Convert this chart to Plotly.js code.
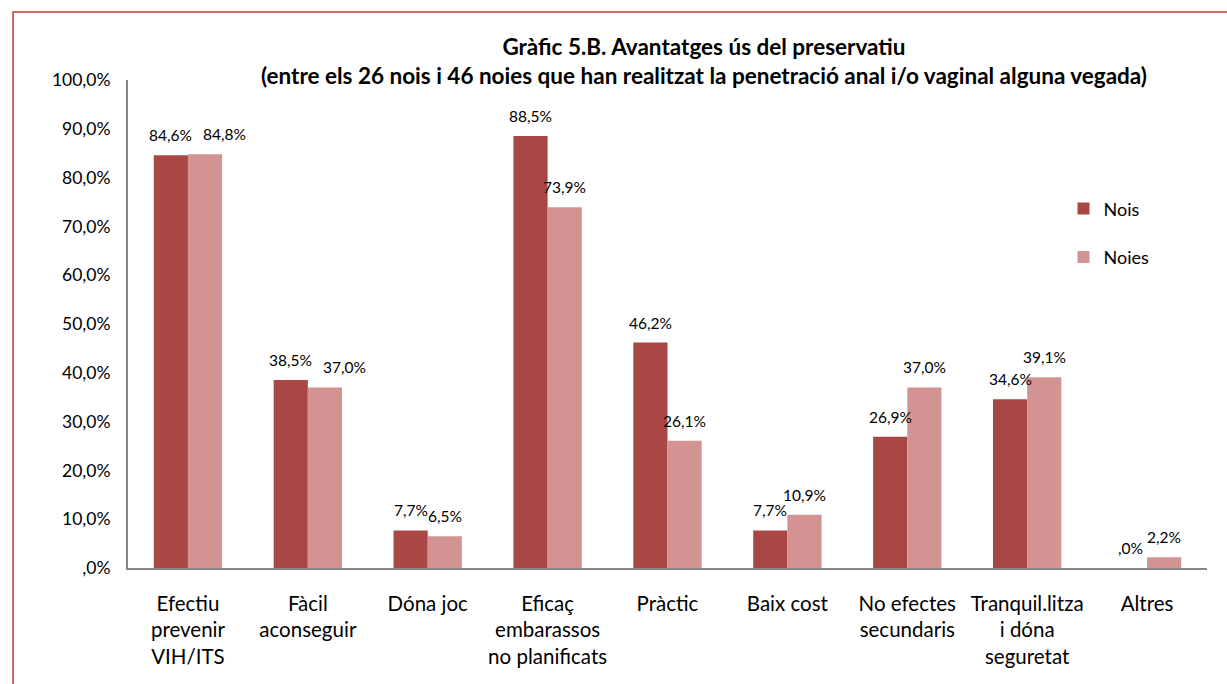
<!DOCTYPE html>
<html>
<head>
<meta charset="utf-8">
<script src="https://cdn.plot.ly/plotly-3.0.1.min.js"></script>
<style>
html,body{margin:0;padding:0;background:#fff;}
#chart{width:1227px;height:684px;}
#frame{position:absolute;left:12px;top:11px;width:1300px;height:800px;border-left:2px solid #d06866;border-top:2px solid #d06866;pointer-events:none;}
</style>
</head>
<body>
<div id="chart"></div>
<div id="frame"></div>
<script>
const categories = [
  "Efectiu<br>prevenir<br>VIH/ITS",
  "Fàcil<br>aconseguir",
  "Dóna joc",
  "Eficaç<br>embarassos<br>no planificats",
  "Pràctic",
  "Baix cost",
  "No efectes<br>secundaris",
  "Tranquil.litza<br>i dóna<br>seguretat",
  "Altres"
];
const nois  = [84.6, 38.5, 7.7, 88.5, 46.2, 7.7, 26.9, 34.6, 0.0];
const noies = [84.8, 37.0, 6.5, 73.9, 26.1, 10.9, 37.0, 39.1, 2.2];
const yTicks = [0, 10, 20, 30, 40, 50, 60, 70, 80, 90, 100];

function fmt(v){
  let s = v.toFixed(1).replace('.', ',');
  if (s.startsWith('0,')) s = s.slice(1);
  return s + '%';
}

const FONT = 'Lato, "Open Sans", sans-serif';
const LABEL_FONT = {family:FONT, size:15.5, color:'#000'};

const traces = [
  {
    type:'bar', name:'Nois', x:categories, y:nois,
    marker:{color:'#A94745'}, hoverinfo:'y',
    legendgroup:'a'
  },
  {
    type:'bar', name:'Noies', x:categories, y:noies,
    marker:{color:'#D39392'}, hoverinfo:'y',
    legendgroup:'b'
  }
];

// data labels: placed at each bar's value, offset to the bar's half of the group
const HALF = 17, GAP = 20;
const annotations = [];
categories.forEach((c, i) => {
  const a = fmt(nois[i]), b = fmt(noies[i]);
  // Excel nudges the second label right when the two labels would collide
  const collide = Math.abs(nois[i] - noies[i]) < 3 && (a.length + b.length) * 4.3 > 2 * HALF + 4;
  annotations.push({x:c, y:nois[i], xref:'x', yref:'y', text:a, showarrow:false,
    xshift:-HALF, yshift:GAP, yanchor:'middle', font:LABEL_FONT});
  annotations.push({x:c, y:noies[i], xref:'x', yref:'y', text:b, showarrow:false,
    xshift:HALF + (collide ? 20 : 0), yshift:GAP, yanchor:'middle', font:LABEL_FONT});
});

const layout = {
  width:1227, height:684,
  margin:{l:128, r:20, t:80, b:116},
  paper_bgcolor:'#fff', plot_bgcolor:'#fff',
  font:{family:FONT, size:16, color:'#000'},
  title:{
    text:'<b>Gràfic 5.B. Avantatges ús del preservatiu</b><br><b>(entre els 26 nois i 46 noies que han realitzat la penetració anal i/o vaginal alguna vegada)</b>',
    font:{family:FONT, size:22.5, color:'#000'},
    x:704/1227, xanchor:'center', xref:'container',
    y:1-55/684, yanchor:'top', yref:'container'
  },
  barmode:'group', bargap:0.43, bargroupgap:0,
  xaxis:{
    showline:true, linecolor:'#868686', linewidth:2,
    ticks:'', ticklabelstandoff:16, tickfont:{family:FONT, size:20.5},
    tickangle:0, showgrid:false, zeroline:false
  },
  yaxis:{
    range:[0,100], showline:true, linecolor:'#868686', linewidth:2,
    tickvals:yTicks, ticktext:yTicks.map(fmt),
    ticks:'', ticklabelstandoff:12, tickfont:{family:FONT, size:17.5},
    showgrid:false, zeroline:false
  },
  annotations:annotations,
  showlegend:true,
  legend:{
    x:0.867, y:0.774, xanchor:'left', yanchor:'top',
    traceorder:'grouped', tracegroupgap:22,
    font:{family:FONT, size:18}, bgcolor:'rgba(0,0,0,0)'
  }
};

Plotly.newPlot('chart', traces, layout, {displayModeBar:false});
</script>
</body>
</html>
